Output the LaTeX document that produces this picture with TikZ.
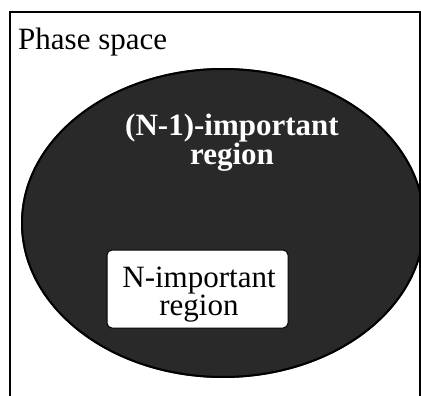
\documentclass[tikz,border=0pt]{standalone}
\usepackage{fontspec}
\setmainfont{Liberation Serif}
\begin{document}
\begin{tikzpicture}[x=1pt,y=-1pt,
  lbl/.style={font=\fontsize{31}{29}\selectfont, inner sep=0pt, align=center},
  boldlbl/.style={font=\fontsize{31}{29}\selectfont\bfseries, text=white, inner sep=0pt, align=center},
  innerbox/.style={draw=black, line width=1pt, fill=white, rounded corners=5pt,
    minimum width=181pt, minimum height=78pt, inner sep=0pt}]
\useasboundingbox (0,0) rectangle (421,396);
\fill[white] (0,0) rectangle (421,396);
\begin{scope}
  \clip (10,12) rectangle (420,396);
  \fill[black!84] (223,223) ellipse [x radius=202, y radius=155];
  \draw[black, line width=2pt] (223,223) ellipse [x radius=201, y radius=154];
\end{scope}
\draw[line width=2pt] (10,396) -- (10,12) -- (420,12) -- (420,396);
\node[lbl, anchor=base west] (phase) at (18,50) {Phase space};
\node[boldlbl] (outer) at (232,143) {(N-1)-important\\region};
\node[innerbox] (inner) at (197.5,289) {};
\node[lbl, font=\fontsize{31}{28}\selectfont] (innertext) at (199,295) {N-important\\region};
\end{tikzpicture}
\end{document}
